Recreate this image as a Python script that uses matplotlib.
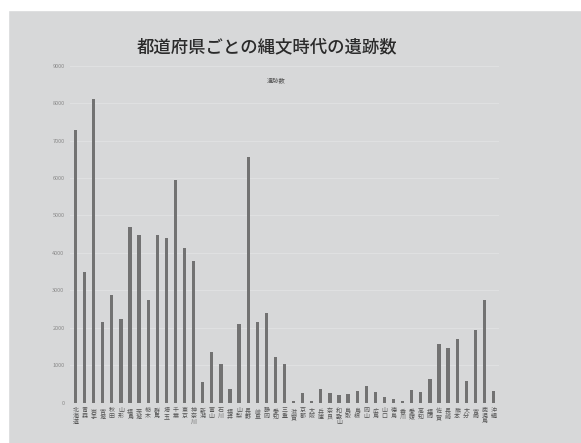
import matplotlib
matplotlib.use('Agg')
import numpy as np
import matplotlib.pyplot as plt
from matplotlib.patches import Rectangle

plt.rcParams['font.family'] = ['Noto Sans CJK JP', 'DejaVu Sans']

prefectures = ["北海道", "青森", "岩手", "宮城", "秋田", "山形", "福島", "茨城",
               "栃木", "群馬", "埼玉", "千葉", "東京", "神奈川", "新潟", "富山",
               "石川", "福井", "山梨", "長野", "岐阜", "静岡", "愛知", "三重",
               "滋賀", "京都", "大阪", "兵庫", "奈良", "和歌山", "鳥取", "島根",
               "岡山", "広島", "山口", "徳島", "香川", "愛媛", "高知", "福岡",
               "佐賀", "長崎", "熊本", "大分", "宮崎", "鹿児島", "沖縄"]
site_counts = [7280, 3480, 8100, 2150, 2880, 2240, 4700, 4490,
               2750, 4490, 4410, 5950, 4120, 3790, 550, 1360,
               1040, 370, 2100, 6550, 2150, 2400, 1230, 1030,
               50, 250, 40, 370, 250, 200, 220, 300,
               455, 280, 160, 90, 45, 340, 280, 640,
               1560, 1470, 1710, 580, 1950, 2750, 300]
y_ticks = [0, 1000, 2000, 3000, 4000, 5000, 6000, 7000, 8000, 9000]

bg = '#d7d8d9'
fig = plt.figure(figsize=(5.81, 4.43), dpi=100, facecolor=bg)
# white margin on top and left, like the photographed screen
fig.patches.append(Rectangle((0, (443 - 10) / 443), 1, 1,
                             transform=fig.transFigure, color='white', zorder=-10))
fig.patches.append(Rectangle((0, 0), 8 / 581, 1,
                             transform=fig.transFigure, color='white', zorder=-10))

ax = fig.add_axes([70 / 581, (443 - 402.7) / 443, 429 / 581, 337 / 443])
ax.set_facecolor('none')

x = np.arange(len(prefectures))
ax.bar(x, site_counts, width=0.36, color='#727272', zorder=3)

ax.set_xlim(-0.6, 46.6)
ax.set_ylim(0, 9000)
ax.set_yticks(y_ticks)
ax.set_yticklabels([str(v) for v in y_ticks], fontsize=4, color='#8a8a8a')
ax.set_xticks(x)
ax.set_xticklabels(['\n'.join(p) for p in prefectures], fontsize=4.3,
                   color='#555555', linespacing=1.1, va='top')
ax.tick_params(length=0, pad=4)
for s in ax.spines.values():
    s.set_visible(False)
ax.yaxis.grid(True, color='white', alpha=0.22, linewidth=0.8, zorder=1)

fig.text(0.46, (443 - 47) / 443, '都道府県ごとの縄文時代の遺跡数', ha='center',
         va='center', fontsize=12.5, color='#2a2a2a', fontweight='medium')
fig.text(276 / 581, (443 - 80) / 443, '遺跡数', ha='center', va='center',
         fontsize=4.5, color='#555555')

fig.savefig('out.png', dpi=100, facecolor=fig.get_facecolor())
